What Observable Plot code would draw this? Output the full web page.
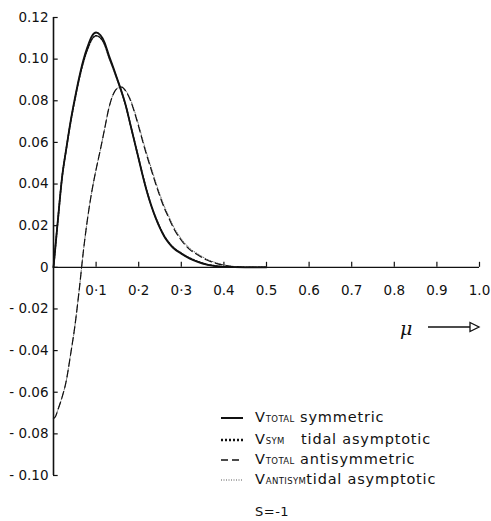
<!DOCTYPE html>
<html>
<head>
<meta charset="utf-8">
<script src="https://cdn.jsdelivr.net/npm/d3@7"></script>
<script src="https://cdn.jsdelivr.net/npm/@observablehq/plot@0.6"></script>
<style>
  html, body { margin: 0; padding: 0; background: #fff; }
  #wrap { position: relative; width: 491px; height: 521px; font-family: "DejaVu Sans", sans-serif; color: #111; overflow: hidden; }
  #wrap > svg { position: absolute; left: 0; top: 0; }
  .leg { position: absolute; left: 221px; font-size: 14.5px; line-height: 14px; letter-spacing: 0.8px; white-space: nowrap; }
  .leg svg { vertical-align: middle; margin-right: 12px; }
  .sc { font-size: 8.5px; letter-spacing: 0.4px; }
</style>
</head>
<body>
<div id="wrap"></div>
<script>
// ---- data ----
const symMu      = [0, 0.005, 0.01, 0.02, 0.03, 0.04, 0.05, 0.06, 0.07, 0.08, 0.09, 0.10, 0.11, 0.12, 0.13, 0.14, 0.15, 0.16, 0.17, 0.18, 0.19, 0.20, 0.21, 0.22, 0.23, 0.24, 0.25, 0.26, 0.27, 0.28, 0.30, 0.32, 0.34, 0.36, 0.38, 0.40, 0.45, 0.50];
const symTotal   = [0, 0.011, 0.022, 0.043, 0.057, 0.070, 0.081, 0.091, 0.0995, 0.106, 0.111, 0.1128, 0.1115, 0.108, 0.1018, 0.0962, 0.0903, 0.0843, 0.0775, 0.069, 0.0605, 0.052, 0.0435, 0.0358, 0.0292, 0.0236, 0.0188, 0.0148, 0.0118, 0.0095, 0.0065, 0.0042, 0.0025, 0.0013, 0.0006, 0.0002, 0, 0];
const symTidal   = [0, 0.011, 0.022, 0.043, 0.0568, 0.0695, 0.0803, 0.0902, 0.0985, 0.1048, 0.1095, 0.1112, 0.1102, 0.1070, 0.1010, 0.0956, 0.0899, 0.0840, 0.0773, 0.0690, 0.0606, 0.0522, 0.0438, 0.0361, 0.0295, 0.0239, 0.0191, 0.0151, 0.0121, 0.0098, 0.0068, 0.0044, 0.0027, 0.0014, 0.0007, 0.0002, 0, 0];
const antiMu     = [0, 0.005, 0.01, 0.02, 0.03, 0.04, 0.05, 0.06, 0.07, 0.08, 0.09, 0.10, 0.11, 0.12, 0.13, 0.14, 0.15, 0.16, 0.17, 0.18, 0.19, 0.20, 0.21, 0.22, 0.23, 0.24, 0.25, 0.26, 0.27, 0.28, 0.30, 0.32, 0.34, 0.36, 0.38, 0.40, 0.42, 0.45, 0.50];
const antiTotal  = [-0.0726, -0.0715, -0.0686, -0.0625, -0.0545, -0.0420, -0.0285, -0.0115, 0.0075, 0.0235, 0.0365, 0.047, 0.0565, 0.0665, 0.0765, 0.0830, 0.0860, 0.0866, 0.0845, 0.0805, 0.0745, 0.0675, 0.060, 0.053, 0.0465, 0.040, 0.034, 0.0285, 0.024, 0.0195, 0.013, 0.0085, 0.0058, 0.0035, 0.002, 0.001, 0.0004, 0, 0];
const antiTidal  = [-0.0726, -0.0715, -0.0686, -0.0625, -0.0545, -0.0420, -0.0285, -0.0115, 0.0075, 0.0235, 0.0365, 0.047, 0.0565, 0.0665, 0.0765, 0.0830, 0.0860, 0.0866, 0.0848, 0.0810, 0.0752, 0.0683, 0.0609, 0.0539, 0.0474, 0.0409, 0.0349, 0.0294, 0.0248, 0.0203, 0.0137, 0.0091, 0.0063, 0.0039, 0.0023, 0.0012, 0.0005, 0, 0];
const xTicks     = [0.1, 0.2, 0.3, 0.4, 0.5, 0.6, 0.7, 0.8, 0.9, 1.0];
const xTickText  = ["0·1", "0·2", "0·3", "0.4", "0.5", "0.6", "0.7", "0.8", "0.9", "1.0"];
const yTicks     = [0.12, 0.10, 0.08, 0.06, 0.04, 0.02, 0, -0.02, -0.04, -0.06, -0.08, -0.10];
const yTickText  = ["0.12", "0.10", "0.08", "0.06", "0.04", "0.02", "0", "- 0.02", "- 0.04", "- 0.06", "- 0.08", "- 0.10"];

const toRows = (xs, ys) => xs.map((x, i) => ({x, y: ys[i]}));
const font = "DejaVu Sans, sans-serif";
const curve = "monotone-x";

const chart = Plot.plot({
  width: 491,
  height: 521,
  marginLeft: 53,
  marginRight: 12,
  marginTop: 17,
  marginBottom: 46,
  x: {domain: [0, 1], axis: null},
  y: {domain: [-0.10, 0.12], axis: null},
  style: {fontFamily: font, background: "white", color: "#111"},
  marks: [
    Plot.ruleX([0], {y1: -0.10, y2: 0.12, stroke: "#111", strokeWidth: 1.6}),
    Plot.ruleY([0], {x1: 0, x2: 1, stroke: "#111", strokeWidth: 1.3}),
    Plot.ruleX(xTicks, {x: d => d, y1: 0, y2: 0.0024, stroke: "#111", strokeWidth: 1.2}),
    Plot.ruleY(yTicks, {y: d => d, x1: 0, x2: 0.011, stroke: "#111", strokeWidth: 1.2}),
    Plot.text(xTicks, {x: d => d, y: () => 0, text: (d, i) => xTickText[i], dy: 23, fontSize: 13.5, fill: "#111", textAnchor: "middle", letterSpacing: "1px"}),
    Plot.text(yTicks, {x: () => 0, y: d => d, text: (d, i) => yTickText[i], dx: -5, fontSize: 13.5, fill: "#111", textAnchor: "end", letterSpacing: "0.6px"}),
    Plot.line(toRows(antiMu, antiTidal), {x: "x", y: "y", curve, stroke: "#555", strokeWidth: 0.9, strokeDasharray: "1,1.6"}),
    Plot.line(toRows(antiMu, antiTotal), {x: "x", y: "y", curve, stroke: "#111", strokeWidth: 1.2, strokeDasharray: "7,4"}),
    Plot.line(toRows(symMu, symTidal), {x: "x", y: "y", curve, stroke: "#111", strokeWidth: 1.6, strokeDasharray: "1.5,1.5"}),
    Plot.line(toRows(symMu, symTotal), {x: "x", y: "y", curve, stroke: "#111", strokeWidth: 1.8})
  ]
});

const wrap = document.getElementById("wrap");
wrap.appendChild(chart);

// legend and annotations (inside the frame, so overlaid on the SVG)
const legendItems = [
  {main: "V", sub: "TOTAL", rest: " symmetric", dash: null, w: 2, col: "#111"},
  {main: "V", sub: "SYM", rest: "\u00a0\u00a0 tidal asymptotic", dash: "2,2", w: 2.5, col: "#111"},
  {main: "V", sub: "TOTAL", rest: " antisymmetric", dash: "7,4", w: 1.5, col: "#111"},
  {main: "V", sub: "ANTISYM", rest: "tidal asymptotic", dash: "1,1.5", w: 0.9, col: "#444"}
];
const legendTops = [410, 432, 452, 472];
legendItems.forEach((it, i) => {
  const d = document.createElement("div");
  d.className = "leg";
  d.style.top = legendTops[i] + "px";
  d.innerHTML = `<svg width="22" height="6"><line x1="0" y1="3" x2="22" y2="3" stroke="${it.col}" stroke-width="${it.w}" ${it.dash ? `stroke-dasharray="${it.dash}"` : ""}/></svg>${it.main}<span class="sc">${it.sub}</span>${it.rest}`;
  wrap.appendChild(d);
});

const s = document.createElement("div");
s.style.cssText = "position:absolute;left:255px;top:505px;font-size:13px;line-height:14px;letter-spacing:0.5px;";
s.textContent = "S=-1";
wrap.appendChild(s);

const mu = document.createElement("div");
mu.style.cssText = "position:absolute;left:400px;top:318px;font-size:19px;line-height:20px;font-style:italic;font-family:'DejaVu Serif',serif;";
mu.textContent = "μ";
wrap.appendChild(mu);

const arr = document.createElementNS("http://www.w3.org/2000/svg", "svg");
arr.setAttribute("width", "60"); arr.setAttribute("height", "12");
arr.style.cssText = "position:absolute;left:425px;top:321px;";
arr.innerHTML = '<line x1="3" y1="6" x2="45" y2="6" stroke="#111" stroke-width="1.3"/><path d="M45,1.5 L54,6 L45,10.5 Z" fill="white" stroke="#111" stroke-width="1.3"/>';
wrap.appendChild(arr);
</script>
</body>
</html>
